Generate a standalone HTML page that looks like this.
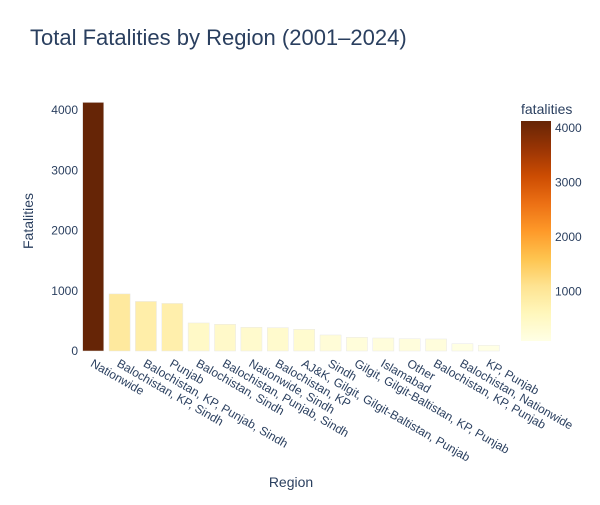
<!DOCTYPE html>
<html><head><meta charset="utf-8"><style>
body{margin:0;background:#fff;font-family:"Liberation Sans",Arial,sans-serif;}
svg text{font-family:"Liberation Sans",Arial,sans-serif;fill:#2a3f5f;}
</style></head><body>
<svg id="chart" width="600" height="500" xmlns="http://www.w3.org/2000/svg">
<defs><linearGradient id="cs" x1="0" y1="1" x2="0" y2="0">
<stop offset="0" stop-color="#ffffe5"/><stop offset="0.125" stop-color="#fff7bc"/><stop offset="0.25" stop-color="#fee391"/><stop offset="0.375" stop-color="#fec44f"/><stop offset="0.5" stop-color="#fe9929"/><stop offset="0.625" stop-color="#ec7014"/><stop offset="0.75" stop-color="#cc4c02"/><stop offset="0.875" stop-color="#993404"/><stop offset="1" stop-color="#662506"/></linearGradient></defs>
<text x="30" y="45" font-size="22">Total Fatalities by Region (2001–2024)</text>
<text transform="translate(33,221) rotate(-90)" text-anchor="middle" font-size="14">Fatalities</text>
<text x="291" y="487" text-anchor="middle" font-size="14">Region</text>
<g id="yticks"></g><g id="bars"></g><g id="xlabels"></g>
<rect x="521" y="121" width="30" height="220" fill="url(#cs)"/>
<text x="521" y="114" font-size="14">fatalities</text>
<g id="cbticks"></g>
</svg>
<script>
const categories=["Nationwide","Balochistan, KP, Sindh","Balochistan, KP, Punjab, Sindh","Punjab","Balochistan, Sindh","Balochistan, Punjab, Sindh","Nationwide, Sindh","Balochistan, KP","AJ&K, Gilgit, Gilgit-Baltistan, Punjab","Sindh","Gilgit, Gilgit-Baltistan, KP, Punjab","Islamabad","Other","Balochistan, KP, Punjab","Balochistan, Nationwide","KP, Punjab"];
const values=[4126,948,823,790,466,444,394,388,361,266,228,216,205,200,121,95];
const yTicks=[0,1000,2000,3000,4000];
const cbTicks=[1000,2000,3000,4000];
const NS="http://www.w3.org/2000/svg";
const x0=80,x1=502,y0=351,pxPer=241/4000;
const band=(x1-x0)/categories.length;
const yS=v=>y0-v*pxPer;
const cmin=Math.min(...values),cmax=Math.max(...values);
const cbY=v=>341-(v-cmin)/(cmax-cmin)*220;
const stops=["#ffffe5","#fff7bc","#fee391","#fec44f","#fe9929","#ec7014","#cc4c02","#993404","#662506"];
function hx(c){return [1,3,5].map(i=>parseInt(c.substr(i,2),16));}
function color(v){let t=(v-cmin)/(cmax-cmin)*8;let i=Math.min(7,Math.floor(t));let f=t-i;let a=hx(stops[i]),b=hx(stops[i+1]);return "rgb("+a.map((c,k)=>Math.round(c+(b[k]-c)*f)).join(",")+")";}
function mk(tag,attrs,parent){const e=document.createElementNS(NS,tag);for(const k in attrs)e.setAttribute(k,attrs[k]);parent.appendChild(e);return e;}
const yt=document.getElementById("yticks");
yTicks.forEach(v=>{const t=mk("text",{x:78,y:yS(v)+4,"text-anchor":"end","font-size":12},yt);


t.textContent=v;});
const bg=document.getElementById("bars"),xl=document.getElementById("xlabels");
categories.forEach((c,i)=>{const cx=x0+band*(i+0.5);
const r=mk("rect",{x:cx-band*0.4,y:yS(values[i]),width:band*0.8,height:values[i]*pxPer,fill:color(values[i]),stroke:"#e8e8e8","stroke-width":0.5},bg);


const t=mk("text",{transform:"translate("+(cx+1)+",358) rotate(30)",x:0,y:9,"font-size":12},xl);


t.textContent=c;});
const cg=document.getElementById("cbticks");
cbTicks.forEach(v=>{const t=mk("text",{x:555,y:cbY(v)+4,"font-size":12},cg);


t.textContent=v;});
</script>
</body></html>
